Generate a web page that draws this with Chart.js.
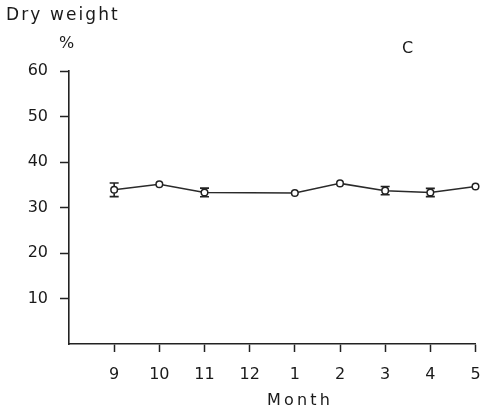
<!DOCTYPE html>
<html><head><meta charset="utf-8">
<script src="https://cdn.jsdelivr.net/npm/chart.js@4"></script>
<style>
html,body{margin:0;padding:0;background:#fff;}
#wrap{position:relative;width:481px;height:413px;}
canvas{position:absolute;left:0;top:0;}
.t{position:absolute;font-family:"DejaVu Sans",sans-serif;color:#1a1a1a;white-space:nowrap;}
</style></head>
<body>
<div id="wrap">
<canvas id="c" width="481" height="413"></canvas>
<div class="t" style="left:6px;top:4px;font-size:17px;letter-spacing:2.1px;">Dry weight</div>
<div class="t" style="left:59px;top:33px;font-size:16px;">%</div>
<div class="t" style="left:402px;top:38px;font-size:16px;">C</div>
<div class="t" style="left:267px;top:390px;font-size:16px;letter-spacing:3.2px;">Month</div>
</div>
<script>
const months = ["9","10","11","12","1","2","3","4","5"];
const dryWeight = [33.9, 35.1, 33.3, null, 33.2, 35.3, 33.7, 33.3, 34.6];
const errorSD = [1.5, 0, 0.95, null, 0, 0, 0.9, 0.9, 0];
const yTicks = [10, 20, 30, 40, 50, 60];

const pts = [];
dryWeight.forEach((v, i) => { if (v !== null) pts.push({x: i, y: v, e: errorSD[i]}); });

const errorBars = {
  id: 'errorBars',
  afterDatasetsDraw(chart) {
    const ctx = chart.ctx, xs = chart.scales.x, ys = chart.scales.y;
    ctx.save();
    ctx.strokeStyle = '#222';
    ctx.lineWidth = 1.6;
    pts.forEach(p => {
      if (!p.e) return;
      const x = xs.getPixelForValue(p.x);
      const y1 = ys.getPixelForValue(p.y + p.e);
      const y2 = ys.getPixelForValue(p.y - p.e);
      const c = ys.getPixelForValue(p.y);
      ctx.beginPath();
      ctx.moveTo(x, y1); ctx.lineTo(x, c - 3.5);
      ctx.moveTo(x, c + 3.5); ctx.lineTo(x, y2);
      ctx.moveTo(x - 4.5, y1); ctx.lineTo(x + 4.5, y1);
      ctx.moveTo(x - 4.5, y2); ctx.lineTo(x + 4.5, y2);
      ctx.stroke();
    });
    ctx.restore();
  }
};

new Chart(document.getElementById('c'), {
  type: 'line',
  data: {
    datasets: [{
      data: pts,
      borderColor: '#2a2a2a',
      borderWidth: 1.5,
      pointRadius: 3.3,
      pointBorderWidth: 1.5,
      pointBackgroundColor: '#fff',
      pointBorderColor: '#222',
      tension: 0,
      spanGaps: true,
      clip: false
    }]
  },
  options: {
    responsive: false,
    animation: false,
    devicePixelRatio: 1,
    layout: {padding: {top: 71, right: 2, left: 0, bottom: 0}},
    plugins: {legend: {display: false}, tooltip: {enabled: false}},
    scales: {
      x: {
        type: 'linear', min: -1, max: 8,
        afterBuildTicks: s => { s.ticks = months.map((m, i) => ({value: i})); },
        afterFit: s => { s.height = 69; s.paddingRight = 0; s.paddingLeft = 0; },
        ticks: {
          callback: v => months[v] ?? '',
          color: '#1a1a1a', font: {family: 'DejaVu Sans', size: 16}, padding: 13,
          maxRotation: 0, autoSkip: false
        },
        grid: {drawOnChartArea: false, drawTicks: true, tickLength: 8, tickColor: '#222', tickWidth: 1.5},
        border: {display: true, color: '#222', width: 1.6}
      },
      y: {
        min: 0, max: 60,
        afterBuildTicks: s => { s.ticks = yTicks.map(v => ({value: v})); },
        afterFit: s => { s.width = 69; s.paddingTop = 0; s.paddingBottom = 0; },
        ticks: {
          color: '#1a1a1a', font: {family: 'DejaVu Sans', size: 16}, padding: 12
        },
        grid: {drawOnChartArea: false, drawTicks: true, tickLength: 9, tickColor: '#222', tickWidth: 1.5},
        border: {display: true, color: '#222', width: 1.6}
      }
    }
  },
  plugins: [errorBars]
});
</script>
</body></html>
